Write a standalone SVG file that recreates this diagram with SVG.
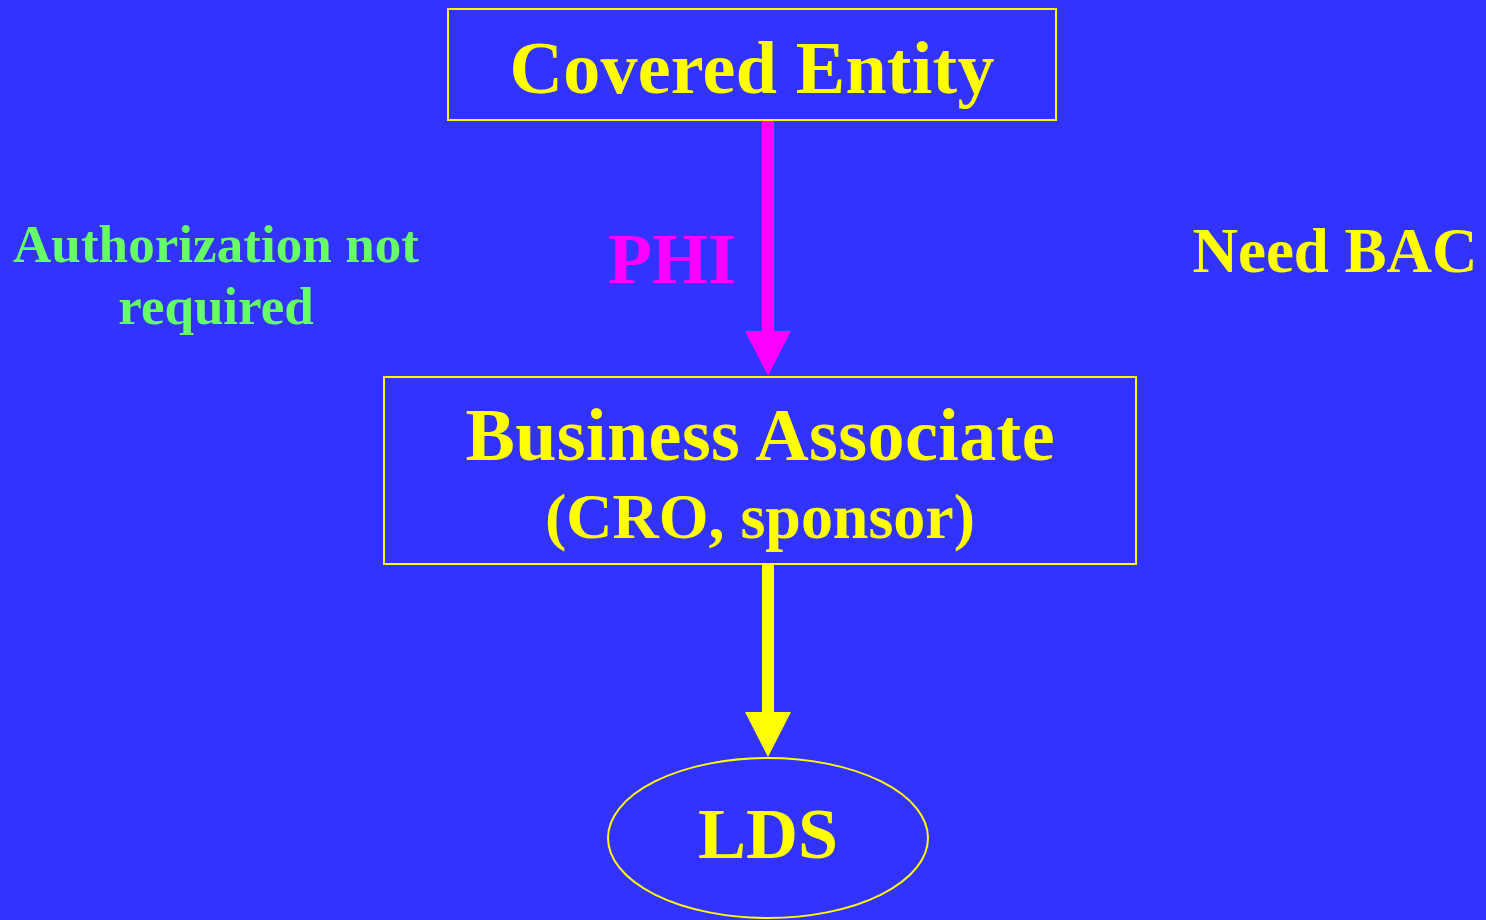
<svg xmlns="http://www.w3.org/2000/svg" width="1486" height="920" viewBox="0 0 1486 920">
<style>
.t{font-family:"Liberation Serif","Times New Roman",serif;font-weight:bold;text-anchor:middle}
.y{fill:#FFFF00}
.box{fill:none;stroke:#FFFF00;stroke-width:2}
</style>
<rect x="0" y="0" width="1486" height="920" fill="#3333FF"/>
<g id="connectors">
  <g id="phi-arrow">
    <rect x="762" y="120" width="12" height="212" fill="#FF00FF"/>
    <polygon points="745,331 791,331 768,376" fill="#FF00FF"/>
  </g>
  <g id="lds-arrow">
    <rect x="762" y="564" width="12" height="149" fill="#FFFF00"/>
    <polygon points="745,712 791,712 768,757" fill="#FFFF00"/>
  </g>
</g>
<g id="covered-entity">
  <rect class="box" x="448" y="9" width="608" height="111"/>
  <text class="t y" x="752" y="93" font-size="74" textLength="485" lengthAdjust="spacing">Covered Entity</text>
</g>
<g id="business-associate">
  <rect class="box" x="384" y="377" width="752" height="187"/>
  <text class="t y" x="760" y="460" font-size="74" textLength="589" lengthAdjust="spacing">Business Associate</text>
  <text class="t y" x="760" y="538" font-size="64" textLength="430" lengthAdjust="spacing">(CRO, sponsor)</text>
</g>
<g id="lds">
  <ellipse class="box" cx="768" cy="838" rx="160" ry="80"/>
  <text class="t y" x="768" y="858" font-size="72">LDS</text>
</g>
<g id="labels">
  <text class="t" x="672" y="283" font-size="72" fill="#FF00FF">PHI</text>
  <text class="t" x="216" y="262" font-size="53" fill="#66FF66" textLength="406" lengthAdjust="spacing">Authorization not</text>
  <text class="t" x="216" y="324" font-size="53" fill="#66FF66">required</text>
  <text class="t y" x="1335" y="272" font-size="63" textLength="285" lengthAdjust="spacing">Need BAC</text>
</g>
</svg>
